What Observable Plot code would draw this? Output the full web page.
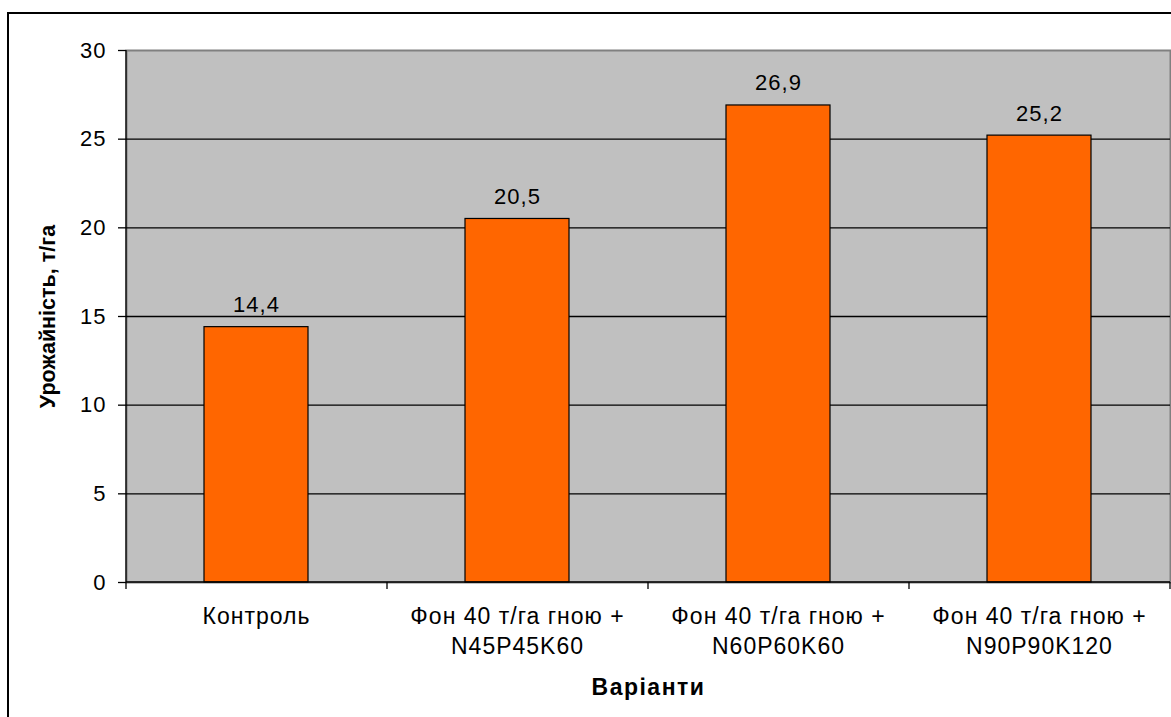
<!DOCTYPE html>
<html>
<head>
<meta charset="utf-8">
<script src="https://cdn.jsdelivr.net/npm/d3@7"></script>
<script src="https://cdn.jsdelivr.net/npm/@observablehq/plot@0.6"></script>
<style>
  html, body { margin: 0; padding: 0; background: #fff; }
  #wrap { position: relative; width: 1171px; height: 717px; overflow: hidden; }
  #border { position: absolute; left: 7px; top: 12px; width: 1200px; height: 760px;
            border-left: 2px solid #000; border-top: 2px solid #000; }
  #chart { position: absolute; left: 0; top: 0; }
  #chart svg text { letter-spacing: 1px; }
  #chart svg .tight text { letter-spacing: 0; }
  #chart svg .wide text { letter-spacing: 1.5px; }
</style>
</head>
<body>
<div id="wrap">
  <div id="border"></div>
  <div id="chart"></div>
</div>
<script>
// Yield by fertiliser variant
const categories = [
  "Контроль",
  "Фон 40 т/га гною +\nN45P45K60",
  "Фон 40 т/га гною +\nN60P60K60",
  "Фон 40 т/га гною +\nN90P90K120"
];
const yields = [14.4, 20.5, 26.9, 25.2];
const yTicks = [0, 5, 10, 15, 20, 25, 30];
const yTitle = "Урожайність, т/га";
const xTitle = "Варіанти";

const rows = categories.map((c, i) => ({category: c, value: yields[i]}));
const fmt = v => v.toFixed(1).replace(".", ",");

// Black axis lines along the left and bottom of the plot area, plus the
// short category separator ticks below the x axis.
function axisLines(index, scales, values, dims) {
  const {y} = scales;
  const {width, marginLeft, marginRight} = dims;
  const n = categories.length;
  const step = (width - marginLeft - marginRight) / n;
  const y0 = y(0), yTop = y(yTicks[yTicks.length - 1]);
  const g = d3.create("svg:g").attr("stroke", "#000").attr("stroke-width", 1.3);
  g.append("line").attr("x1", marginLeft).attr("x2", marginLeft).attr("y1", yTop).attr("y2", y0);
  g.append("line").attr("x1", marginLeft).attr("x2", width - marginRight).attr("y1", y0).attr("y2", y0);
  for (let i = 0; i <= n; ++i) {
    const xi = marginLeft + i * step;
    g.append("line").attr("x1", xi).attr("x2", xi).attr("y1", y0).attr("y2", y0 + 7);
  }
  return g.node();
}

const chart = Plot.plot({
  width: 1171,
  height: 717,
  marginLeft: 126,
  marginRight: 1,
  marginTop: 50,
  marginBottom: 135,
  style: {background: "none", fontFamily: "'Liberation Sans', Arial, sans-serif", overflow: "visible"},
  x: {domain: categories, paddingInner: 0.6, paddingOuter: 0.3, label: null},
  y: {domain: [0, 30], label: null},
  marks: [
    Plot.frame({fill: "#c0c0c0", stroke: "#808080", strokeWidth: 2}),
    Plot.ruleY(yTicks.filter(t => t > 0 && t < 30), {stroke: "#000", strokeWidth: 1.3}),
    Plot.barY(rows, {x: "category", y: "value", fill: "#ff6600", stroke: "#000", strokeWidth: 1.2}),
    Plot.text(rows, {x: "category", y: "value", text: d => fmt(d.value), lineAnchor: "bottom", dy: -15, fontSize: 22, fill: "#000"}),
    axisLines,
    Plot.axisY({ticks: yTicks, tickSize: 8, tickPadding: 12, fontSize: 22, label: null, stroke: "#000", strokeWidth: 1.3, fill: "#000"}),
    Plot.axisX({tickSize: 0, tickPadding: 20.5, fontSize: 23, lineHeight: 30 / 23, label: null, fill: "#000", tickFormat: d => d}),
    Plot.text([yTitle], {frameAnchor: "left", textAnchor: "middle", lineAnchor: "middle", rotate: -90, dx: -78, fontSize: 21.5, fontWeight: "bold", fill: "#000", className: "tight"}),
    Plot.text([xTitle], {frameAnchor: "bottom", textAnchor: "middle", lineAnchor: "middle", dy: 105, fontSize: 23, fontWeight: "bold", fill: "#000", className: "wide"})
  ]
});

document.getElementById("chart").appendChild(chart);
</script>
</body>
</html>
